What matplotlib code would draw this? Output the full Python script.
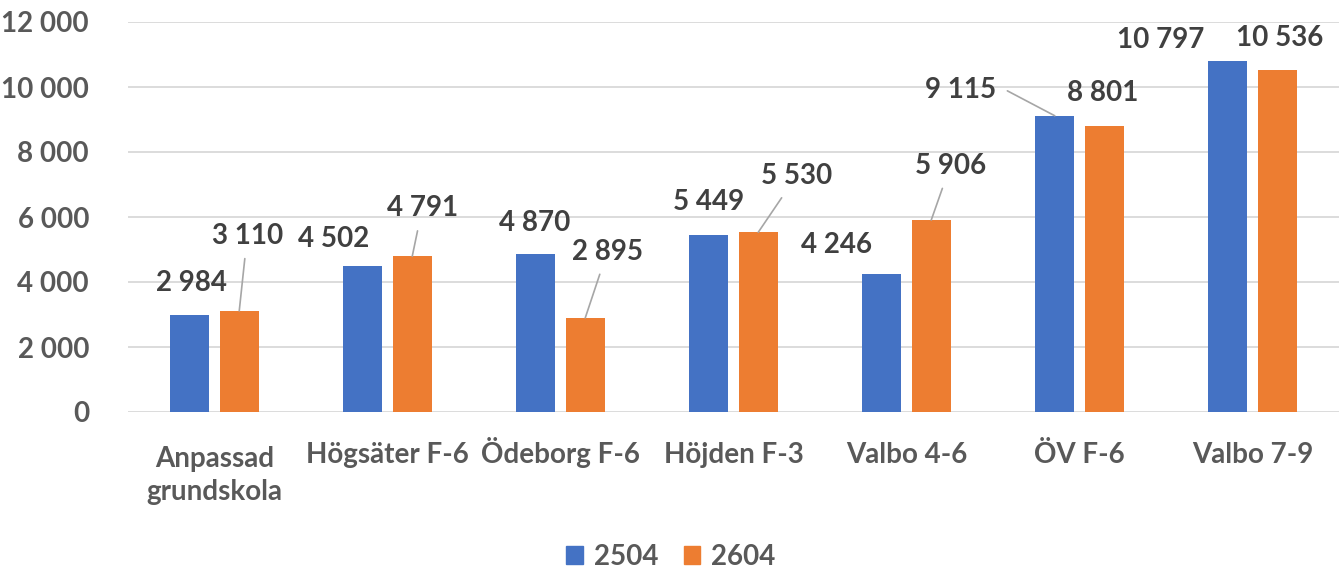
import numpy as np
import matplotlib
matplotlib.use("Agg")
from matplotlib import pyplot as plt
from matplotlib.patches import Patch
from matplotlib.transforms import ScaledTranslation

plt.rcParams['font.family'] = ['Lato', 'DejaVu Sans']
plt.rcParams['font.weight'] = 'bold'

# data
categories = ['Anpassad\ngrundskola', 'Högsäter F-6', 'Ödeborg F-6', 'Höjden F-3',
              'Valbo 4-6', 'ÖV F-6', 'Valbo 7-9']
series_names = ['2504', '2604']
values_2504 = [2984, 4502, 4870, 5449, 4246, 9115, 10797]
values_2604 = [3110, 4791, 2895, 5530, 5906, 8801, 10536]
y_ticks = [0, 2000, 4000, 6000, 8000, 10000, 12000]

# label placement (pixel offset from bar top, leader line?)
offs_2504 = [(2, 32, False), (-29, 27, False), (-1, 31, False), (0, 33, False),
             (-45, 29, False), (-94, 26, True), (-67, 21, False)]
offs_2604 = [(8, 75, True), (10, 48, True), (22, 66, True), (38, 56, True),
             (19, 54, True), (-2, 33, False), (2, 32, False)]

BLUE = '#4472C4'
ORANGE = '#ED7D31'
GRID = '#D9D9D9'
TICK_COL = '#595959'
LABEL_COL = '#404040'
LEADER = '#A6A6A6'


def fmt(v):
    return f'{v:,}'.replace(',', ' ')


fig = plt.figure(figsize=(13.39, 5.70), dpi=100)
ax = fig.add_axes([128 / 1339, 1 - 412 / 570, 1 - 128 / 1339, 390 / 570])

x = np.arange(len(categories))
w = 0.225
off = 0.143
bars_a = ax.bar(x - off, values_2504, w, color=BLUE, zorder=3)
bars_b = ax.bar(x + off, values_2604, w, color=ORANGE, zorder=3)

ax.set_xlim(-0.5, len(categories) - 0.5)
ax.set_ylim(0, 12000)
ax.set_yticks(y_ticks)
ax.set_yticklabels([fmt(t) for t in y_ticks])
ax.set_xticks(x)
ax.set_xticklabels(categories, linespacing=1.3, va='baseline')
ax.tick_params(axis='y', length=0, pad=28, labelsize=20, labelcolor=TICK_COL)
ax.tick_params(axis='x', length=0, pad=36.5, labelsize=20, labelcolor=TICK_COL)
ax.grid(axis='y', color=GRID, linewidth=1.3, zorder=0)
for s in ax.spines.values():
    s.set_visible(False)

# baseline alignment uses the last line: push two-line labels down one line
for lbl in ax.get_xticklabels():
    n = lbl.get_text().count('\n')
    if n:
        lbl.set_transform(lbl.get_transform()
                          + ScaledTranslation(0, -0.37 * n, fig.dpi_scale_trans))

for bars, vals, offs in ((bars_a, values_2504, offs_2504), (bars_b, values_2604, offs_2604)):
    for b, v, (dx, dy, lead) in zip(bars, vals, offs):
        bx = b.get_x() + b.get_width() / 2
        props = None
        if lead:
            if abs(dx) > 60:
                props = dict(arrowstyle='-', color=LEADER, lw=1.2, relpos=(1, 0.5),
                             shrinkA=6, shrinkB=0,
                             connectionstyle='arc,angleA=0,armA=9,angleB=0,armB=0,rad=0')
            else:
                props = dict(arrowstyle='-', color=LEADER, lw=1.2, shrinkA=5, shrinkB=0)
        ax.annotate(fmt(v), xy=(bx, v), xytext=(dx, dy), textcoords='offset pixels',
                    ha='center', va='center', fontsize=20, fontweight='bold',
                    color=LABEL_COL, arrowprops=props, annotation_clip=False, zorder=5)

handles = [Patch(color=BLUE, label=series_names[0]), Patch(color=ORANGE, label=series_names[1])]
fig.legend(handles=handles, loc='center', bbox_to_anchor=(671 / 1339, 1 - 557 / 570),
           ncol=2, frameon=False, fontsize=20, handlelength=0.6, handleheight=0.6,
           handletextpad=0.4, columnspacing=0.9, labelcolor=TICK_COL)

fig.savefig('out.png', dpi=100)
